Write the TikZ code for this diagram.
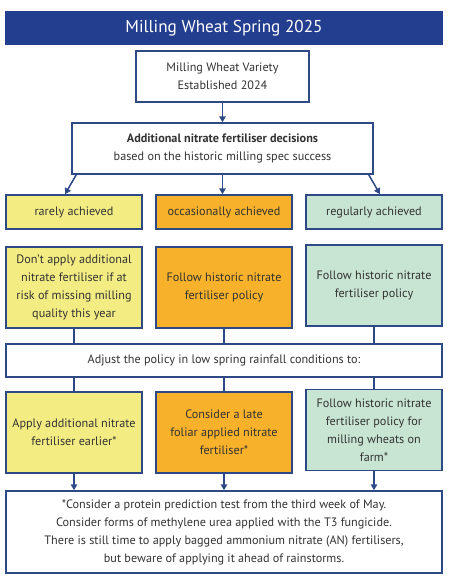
\documentclass[tikz,border=0pt]{standalone}
\usepackage{fontspec}
\setmainfont{PT Sans}
\usepackage{xcolor}
\definecolor{titleblue}{HTML}{233E8F}
\definecolor{edgeblue}{HTML}{2E4A86}
\definecolor{rareyellow}{HTML}{F3EC82}
\definecolor{occasorange}{HTML}{F7B12A}
\definecolor{regulargreen}{HTML}{C8E4D2}
\definecolor{txtgray}{HTML}{333333}
\usepackage{tikz}
\usetikzlibrary{arrows.meta,positioning,calc}

\begin{document}
\begin{tikzpicture}[
  x=1pt, y=-1pt,
  font=\fontsize{12.2}{18}\selectfont,
  box/.style={
    rectangle, draw=edgeblue, fill=#1,
    line width=1.5pt, text=txtgray,
    inner sep=2pt, align=center
  },
  smallbox/.style={
    box=#1, minimum width=136pt, minimum height=34pt
  },
  actbox/.style={
    box=#1, minimum width=136pt, minimum height=81pt
  },
  widebox/.style={
    box=white, minimum width=436pt
  },
  arr/.style={-{Triangle[length=6pt,width=6.5pt]}, line width=1.5pt, color=edgeblue},
  link/.style={line width=1.5pt, color=edgeblue}
]
\useasboundingbox (0,0) rectangle (452,582);

\node[rectangle, fill=titleblue, text=white, minimum width=438pt, minimum height=34pt,
  font=\fontsize{17.2}{20}\selectfont] (title) at (224,28) {Milling Wheat Spring 2025};

\node[box=white, minimum width=173pt, minimum height=51pt] (variety) at (222.5,76.5)
  {Milling Wheat Variety\\Established 2024};
\node[box=white, minimum width=301pt, minimum height=51pt] (decide) at (222.5,148.5)
  {\textbf{Additional nitrate fertiliser decisions}\\based on the historic milling spec success};

% how often the milling spec was met
\node[smallbox=rareyellow] (rare) at (74,212) {rarely achieved};
\node[smallbox=occasorange] (occas) at (224,212) {occasionally achieved};
\node[smallbox=regulargreen] (regular) at (374,212) {regularly achieved};

\node[actbox=rareyellow] (rareAct) at (74,287.5)
  {Don't apply additional\\nitrate fertiliser if at\\risk of missing milling\\quality this year};
\node[actbox=occasorange] (occasAct) at (224,287.5)
  {Follow historic nitrate\\fertiliser policy};
\node[actbox=regulargreen] (regAct) at (374,285.5)
  {Follow historic nitrate\\fertiliser policy};

\node[widebox, minimum height=33pt] (adjust) at (224,360.5)
  {Adjust the policy in low spring rainfall conditions to:};

% low rainfall versions
\node[actbox=rareyellow] (rareLow) at (74,432.5)
  {Apply additional nitrate\\fertiliser earlier*};
\node[actbox=occasorange] (occasLow) at (224,432.5)
  {Consider a late\\foliar applied nitrate\\fertiliser*};
\node[actbox=regulargreen] (regLow) at (374,430)
  {Follow historic nitrate\\fertiliser policy for\\milling wheats on\\farm*};

\node[widebox, minimum height=82pt] (note) at (224,532)
  {*Consider a protein prediction test from the third week of May.\\
   Consider forms of methylene urea applied with the T3 fungicide.\\
   There is still time to apply bagged ammonium nitrate (AN) fertilisers,\\
   but beware of applying it ahead of rainstorms.};

\draw[arr] (variety.south) -- (decide.north);
\draw[arr] ([xshift=5pt]decide.south west) -- ([xshift=-9pt]rare.north);
\draw[arr] (decide.south) -- (decide.south |- occas.north);
\draw[arr] ([xshift=-5pt]decide.south east) -- ([xshift=6pt]regular.north);

\foreach \n in {rareAct,occasAct,regAct} {
  \draw[link] (\n.south) -- (\n.south |- adjust.north);
}
\foreach \n in {rareLow,occasLow,regLow} {
  \draw[link] (adjust.south -| \n.north) -- (\n.north);
  \draw[arr] (\n.south) -- (\n.south |- note.north);
}
\end{tikzpicture}
\end{document}
